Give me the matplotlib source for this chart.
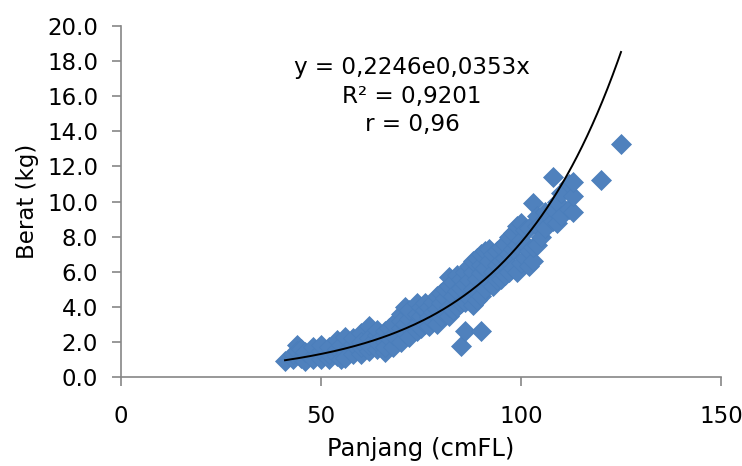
import matplotlib
matplotlib.use("Agg")
import matplotlib.pyplot as plt
import numpy as np

# data (panjang cmFL vs berat kg)
panjang = [41, 43, 43, 44, 44, 45, 45, 46, 46, 48, 48, 48, 50, 50, 50,
           52, 52, 52, 54, 54, 54, 55, 55, 56, 56, 56, 58, 58, 58,
           60, 60, 60, 60, 62, 62, 62, 62, 64, 64, 64, 64, 66, 66, 66, 66,
           67, 67, 68, 68, 68, 70, 70, 70, 70, 71, 71, 71, 72, 72, 72,
           74, 74, 74, 74, 75, 75, 75, 76, 76, 76, 77, 77, 77, 78, 78, 78,
           79, 79, 79, 80, 80, 80, 81, 81, 81, 82, 82, 82, 82, 83, 83, 83,
           84, 84, 84, 85, 85, 85, 85, 86, 86, 86, 86, 87, 87, 87,
           88, 88, 88, 88, 89, 89, 89, 90, 90, 90, 90, 90, 91, 91, 91,
           92, 92, 92, 93, 93, 93, 94, 94, 94, 95, 95, 95, 96, 96, 96,
           97, 97, 97, 98, 98, 98, 99, 99, 99, 100, 100, 100, 101, 101, 101,
           102, 102, 102, 103, 103, 103, 104, 104, 104, 105, 105, 106, 106,
           108, 108, 108, 109, 109, 110, 110, 112, 112, 113, 113, 113, 120, 125]
berat = [0.9, 1.0, 1.3, 1.8, 1.5, 1.1, 1.6, 0.9, 1.4, 1.2, 1.7, 1.0, 1.0, 1.5, 1.8,
         1.0, 1.3, 1.7, 1.2, 1.6, 2.1, 1.0, 1.8, 1.4, 2.3, 1.1, 1.3, 1.9, 2.2,
         1.3, 1.7, 2.5, 2.0, 1.5, 2.9, 2.2, 1.8, 1.6, 2.4, 2.7, 2.0, 1.4, 2.0, 2.6, 1.7,
         2.2, 2.8, 1.7, 2.4, 3.0, 2.0, 2.8, 3.6, 3.2, 2.5, 4.0, 3.0, 2.3, 3.3, 3.8,
         2.6, 3.0, 3.6, 4.2, 2.8, 3.5, 4.0, 3.0, 3.8, 4.2, 2.9, 3.4, 4.0, 3.2, 3.7, 4.3,
         3.0, 3.9, 4.6, 3.4, 4.2, 4.8, 3.6, 4.5, 5.0, 3.5, 4.0, 5.7, 5.2, 3.8, 4.6, 5.4,
         4.0, 4.9, 5.8, 1.75, 4.2, 5.1, 5.6, 2.6, 4.3, 5.3, 6.0, 4.5, 5.5, 6.3,
         4.1, 5.0, 6.0, 6.6, 4.4, 5.6, 6.8, 2.6, 4.6, 5.9, 6.4, 7.0, 5.0, 6.2, 7.2,
         5.4, 6.6, 7.3, 5.2, 6.0, 7.0, 5.5, 6.4, 7.2, 5.6, 6.6, 7.4, 5.8, 6.8, 7.6,
         6.0, 7.0, 8.0, 6.2, 7.3, 8.2, 6.0, 7.5, 8.6, 6.5, 7.8, 8.8, 6.8, 7.6, 8.4,
         6.3, 7.2, 8.5, 6.6, 7.4, 9.9, 7.5, 8.6, 9.2, 8.0, 8.8, 8.5, 9.4,
         8.9, 11.4, 9.6, 8.8, 10.0, 9.2, 10.5, 9.6, 11.0, 9.4, 10.3, 11.1, 11.2, 13.3]

# exponential trend: y = a * exp(b x)
a_coef, b_coef = 0.2246, 0.0353
trend_range = (41, 125)
eq_lines = ["y = 0,2246e0,0353x", "R² = 0,9201", "r = 0,96"]

x_ticks = [0, 50, 100, 150]
y_ticks = np.arange(0, 20.1, 2)

plt.rcParams["font.family"] = ["DejaVu Sans"]
fig = plt.figure(figsize=(7.42, 4.66), dpi=100)
ax = fig.add_axes([0.1631, 0.191, 0.8086, 0.753])

ax.plot(panjang, berat, linestyle="none", marker="D", ms=10,
        mfc="#4F81BD", mec="#4A7EBB", mew=0.5, zorder=2)

xt = np.linspace(trend_range[0], trend_range[1], 200)
ax.plot(xt, a_coef * np.exp(b_coef * xt), color="black", lw=1.4, zorder=3)

ax.set_xlim(0, 150)
ax.set_ylim(0, 20)
ax.set_xticks(x_ticks)
ax.set_yticks(y_ticks)
ax.set_yticklabels([f"{v:.1f}" for v in y_ticks])

for s in ["top", "right"]:
    ax.spines[s].set_visible(False)
for s in ["left", "bottom"]:
    ax.spines[s].set_color("#868686")
    ax.spines[s].set_linewidth(1.2)
ax.tick_params(axis="both", direction="out", length=6.5, width=1.2, color="#868686",
               labelsize=16.5, labelcolor="black")
ax.tick_params(axis="x", pad=13.5)
ax.tick_params(axis="y", pad=10)

ax.set_xlabel("Panjang (cmFL)", fontsize=17.5, labelpad=7)
ax.set_ylabel("Berat (kg)", fontsize=16.5, labelpad=5.5)

ax.text(0.485, 0.80, "\n".join(eq_lines), transform=ax.transAxes, ha="center",
        va="center", fontsize=16.6, linespacing=1.3)

fig.savefig("out.png", dpi=100)
